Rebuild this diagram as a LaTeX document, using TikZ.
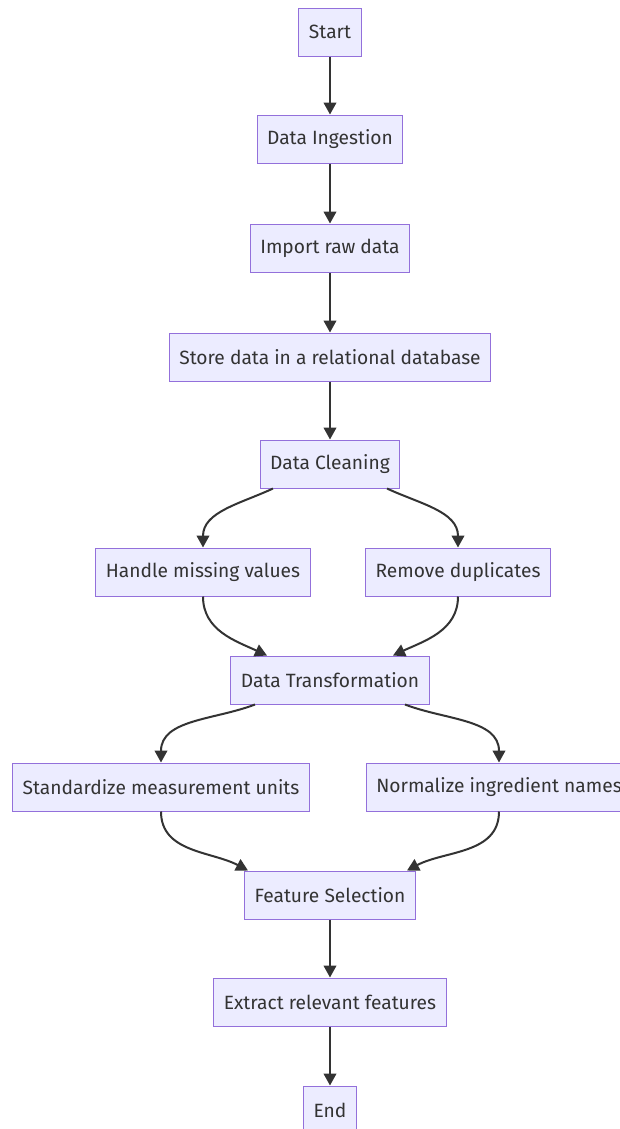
\documentclass[tikz,border=0pt]{standalone}
\usepackage{fontspec}
\setmainfont{Fira Sans}
\usetikzlibrary{arrows.meta}
\definecolor{boxfill}{HTML}{ECECFF}
\definecolor{boxline}{HTML}{9370DB}
\definecolor{inkgray}{HTML}{333333}

\begin{document}
\begin{tikzpicture}[x=0.75pt, y=0.75pt,
  stepbox/.style={draw=boxline, fill=boxfill, line width=0.75pt, minimum height=36pt,
    inner xsep=7.5pt, text=inkgray, font=\fontsize{14.4}{16}\selectfont},
  flow/.style={draw=inkgray, line width=1.5pt, -{Triangle[length=9pt, width=9.5pt]}}]
  \useasboundingbox[fill=white] (0, 0) rectangle (620, -1129);
  \node[stepbox] (start) at (330, -32) {Start};
  \node[stepbox] (ingest) at (330, -139) {Data Ingestion};
  \node[stepbox] (import) at (330, -248) {Import raw data};
  \node[stepbox] (store) at (330, -357) {Store data in a relational database};
  \node[stepbox] (clean) at (330, -464) {Data Cleaning};
  \node[stepbox] (missing) at (203, -572) {Handle missing values};
  \node[stepbox] (dupes) at (458, -572) {Remove duplicates};
  \node[stepbox] (transform) at (330, -680) {Data Transformation};
  \node[stepbox] (units) at (161, -787) {Standardize measurement units};
  \node[stepbox] (names) at (499, -787) {Normalize ingredient names};
  \node[stepbox] (select) at (330, -895) {Feature Selection};
  \node[stepbox] (extract) at (330, -1002) {Extract relevant features};
  \node[stepbox] (end) at (330, -1110) {End};

  \draw[flow] (start) -- (ingest);
  \draw[flow] (ingest) -- (import);
  \draw[flow] (import) -- (store);
  \draw[flow] (store) -- (clean);
  \draw[flow] ([xshift=-42.75pt]clean.south) to[out=-155, in=90] (missing.north);
  \draw[flow] ([xshift=42.75pt]clean.south) to[out=-25, in=90] (dupes.north);
  \draw[flow] (missing.south) to[out=-90, in=155] ([xshift=-47.25pt]transform.north);
  \draw[flow] (dupes.south) to[out=-90, in=25] ([xshift=47.25pt]transform.north);
  \draw[flow] ([xshift=-56.25pt]transform.south) to[out=-159, in=90] (units.north);
  \draw[flow] ([xshift=56.25pt]transform.south) to[out=-21, in=90] (names.north);
  \draw[flow] (units.south) to[out=-90, in=152] ([xshift=-61.5pt]select.north);
  \draw[flow] (names.south) to[out=-90, in=28] ([xshift=57.75pt]select.north);
  \draw[flow] (select) -- (extract);
  \draw[flow] (extract) -- (end);
\end{tikzpicture}
\end{document}
